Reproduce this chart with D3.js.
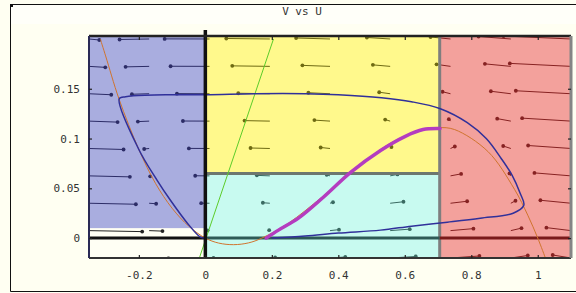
<!DOCTYPE html>
<html>
<head>
<meta charset="utf-8">
<script src="https://cdn.jsdelivr.net/npm/d3@7"></script>
<style>
  html, body { margin: 0; padding: 0; background: #fffff2; }
  svg { display: block; }
  text { font-family: "DejaVu Sans Mono", monospace; font-size: 11px; fill: #333; }
</style>
</head>
<body>
<div id="chart"></div>
<script>
const width = 576, height = 293;

// tick labels
const xTicks = [-0.2, 0, 0.2, 0.4, 0.6, 0.8, 1];
const xTickLabels = ['-0.2', '0', '0.2', '0.4', '0.6', '0.8', '1'];
const yTicks = [0, 0.05, 0.1, 0.15];
const yTickLabels = ['0', '0.05', '0.1', '0.15'];

// shaded regions of the phase plane
const regionName = ['low', 'blue', 'yellow', 'cyan', 'red'];
const regionU0 = [-0.35, -0.35, 0, 0, 0.705];
const regionU1 = [0, 0, 0.705, 0.705, 1.1];
const regionV0 = [-0.02, 0.01, 0.065, -0.02, -0.02];
const regionV1 = [0.01, 0.203, 0.203, 0.065, 0.203];

// direction field grid (tail points) and read-off head offsets
const gridU = [-0.35, -0.169, 0.0125, 0.194, 0.375, 0.556, 0.7375, 0.919, 1.1];
const gridV = [-0.02, 0.0075, 0.035, 0.0625, 0.09, 0.1175, 0.145, 0.1725, 0.2];
const fieldDU = [
  [0.178, 0.058, 0.012, 0.016, 0.046, 0.077, 0.087, 0.051, -0.055],
  [0.160, 0.040, -0.006, -0.002, 0.027, 0.059, 0.069, 0.032, -0.074],
  [0.141, 0.021, -0.025, -0.021, 0.009, 0.040, 0.050, 0.014, -0.092],
  [0.123, 0.003, -0.043, -0.039, -0.010, 0.022, 0.032, -0.004, -0.110],
  [0.104, -0.015, -0.062, -0.058, -0.028, 0.004, 0.013, -0.023, -0.129],
  [0.086, -0.034, -0.080, -0.076, -0.047, -0.015, -0.005, -0.041, -0.147],
  [0.067, -0.052, -0.098, -0.095, -0.065, -0.033, -0.024, -0.060, -0.166],
  [0.049, -0.071, -0.117, -0.113, -0.083, -0.052, -0.042, -0.078, -0.184],
  [0.031, -0.089, -0.135, -0.131, -0.102, -0.070, -0.060, -0.097, -0.203]
];
const fieldDV = [-0.001, -0.0005, 0.0001, 0.0005, 0.001, 0.0015, 0.002, 0.0025, 0.003];

// cubic nullcline
const nullU = [-0.316, -0.3, -0.26, -0.2, -0.15, -0.1, -0.05, 0, 0.04, 0.085, 0.13, 0.17, 0.25, 0.35, 0.45, 0.55, 0.65, 0.7, 0.75, 0.85, 0.93, 0.97, 1.0, 1.023];
const nullV = [0.2, 0.183, 0.14, 0.089, 0.055, 0.03, 0.012, 0, -0.005, -0.0066, -0.0048, 0, 0.015, 0.041, 0.069, 0.094, 0.109, 0.111, 0.109, 0.087, 0.049, 0.023, 0, -0.02];

// straight nullcline
const lineU = [-0.018, 0.205];
const lineV = [-0.02, 0.2];

// trajectory
const trajU = [0.2, 0.3, 0.4, 0.527, 0.62, 0.728, 0.827, 0.926, 0.958, 0.947, 0.923, 0.89, 0.845, 0.788, 0.707, 0.62, 0.53, 0.4, 0.3, 0.15, 0, -0.12, -0.217, -0.24, -0.259, -0.2, -0.145, -0.105, -0.054, -0.015, 0];
const trajV = [0, 0.002, 0.005, 0.008, 0.012, 0.016, 0.02, 0.025, 0.033, 0.045, 0.063, 0.08, 0.1, 0.116, 0.13, 0.137, 0.141, 0.144, 0.145, 0.145, 0.144, 0.144, 0.143, 0.142, 0.14, 0.089, 0.058, 0.038, 0.015, 0.001, 0];

// highlighted rise
const riseU = [0.183, 0.22, 0.28, 0.355, 0.437, 0.527, 0.6, 0.655, 0.706];
const riseV = [0, 0.008, 0.02, 0.041, 0.066, 0.088, 0.102, 0.109, 0.11];

const fills = { low: '#fffff4', blue: '#a9addf', yellow: '#fff98c', cyan: '#c8faf0', red: '#f3a19c' };
const arrowColors = { low: '#222222', blue: '#2c2c66', yellow: '#6e6a12', cyan: '#3a6a62', red: '#862222' };

const x = d3.scaleLinear().domain([-0.35, 1.1]).range([89, 571]);
const y = d3.scaleLinear().domain([-0.02, 0.203]).range([258, 36]);

const svg = d3.select('#chart').append('svg')
  .attr('width', width)
  .attr('height', height);

// outer border
svg.append('rect').attr('x', 0).attr('y', 0).attr('width', width).attr('height', height).attr('fill', '#fffff2');
svg.append('rect').attr('x', 10).attr('y', 4).attr('width', width - 10).attr('height', 20).attr('fill', '#ffffff').attr('opacity', 0.5);
svg.append('path').attr('d', `M576,4.5H10.5V291.5H576`).attr('fill', 'none').attr('stroke', '#111').attr('stroke-width', 1);
svg.append('rect').attr('x', 10).attr('y', 4).attr('width', 3).attr('height', 3).attr('fill', '#111');

svg.append('text')
  .attr('x', 302).attr('y', 15)
  .attr('text-anchor', 'middle')
  .text('V vs U');

const defs = svg.append('defs');
const regions = regionName.map((name, i) => ({
  name, u0: regionU0[i], u1: regionU1[i], v0: regionV0[i], v1: regionV1[i]
}));

regions.forEach(r => {
  defs.append('clipPath').attr('id', `clip-${r.name}`)
    .append('rect')
      .attr('x', x(r.u0)).attr('y', y(r.v1))
      .attr('width', x(r.u1) - x(r.u0))
      .attr('height', y(r.v0) - y(r.v1));
});

svg.append('g').selectAll('rect')
  .data(regions)
  .join('rect')
    .attr('x', d => x(d.u0))
    .attr('y', d => y(d.v1))
    .attr('width', d => x(d.u1) - x(d.u0))
    .attr('height', d => y(d.v0) - y(d.v1))
    .attr('fill', d => fills[d.name]);

// direction field, drawn once per region with that region's colour
const arrows = [];
gridV.forEach((v, i) => {
  gridU.forEach((u, j) => {
    arrows.push({ u, v, hu: u + fieldDU[i][j], hv: v + fieldDV[j] });
  });
});

regions.forEach(r => {
  const g = svg.append('g').attr('clip-path', `url(#clip-${r.name})`);
  g.selectAll('line')
    .data(arrows)
    .join('line')
      .attr('x1', d => x(d.u)).attr('y1', d => y(d.v))
      .attr('x2', d => x(d.hu)).attr('y2', d => y(d.hv))
      .attr('stroke', arrowColors[r.name])
      .attr('stroke-width', 1);
  g.selectAll('circle')
    .data(arrows)
    .join('circle')
      .attr('cx', d => x(d.hu)).attr('cy', d => y(d.hv))
      .attr('r', 1.9)
      .attr('fill', arrowColors[r.name]);
});

// region borders
svg.append('line')
  .attr('x1', x(0)).attr('x2', x(0.705))
  .attr('y1', y(0.065)).attr('y2', y(0.065))
  .attr('stroke', '#6d776f').attr('stroke-width', 3);
svg.append('line')
  .attr('x1', x(0.705)).attr('x2', x(0.705))
  .attr('y1', y(0.203)).attr('y2', y(-0.02))
  .attr('stroke', '#7e7e7e').attr('stroke-width', 3);

// v = 0 line, coloured per region
const zeroU = [-0.35, 0, 0.705, 1.1];
const zeroColors = ['#111111', '#2e5a56', '#7a1a1a'];
zeroColors.forEach((c, i) => {
  svg.append('line')
    .attr('x1', x(zeroU[i])).attr('x2', x(zeroU[i + 1]))
    .attr('y1', y(0)).attr('y2', y(0))
    .attr('stroke', c).attr('stroke-width', 3);
});

const line = d3.line()
  .x(d => x(d[0]))
  .y(d => y(d[1]))
  .curve(d3.curveCatmullRom.alpha(0.5));

defs.append('clipPath').attr('id', 'clip-plot')
  .append('rect')
    .attr('x', x(-0.35)).attr('y', y(0.203))
    .attr('width', x(1.1) - x(-0.35))
    .attr('height', y(-0.02) - y(0.203));

const curves = svg.append('g').attr('clip-path', 'url(#clip-plot)');

curves.append('path')
  .attr('d', line(d3.zip(nullU, nullV)))
  .attr('fill', 'none').attr('stroke', '#d0742e').attr('stroke-width', 1);

curves.append('path')
  .attr('d', line(d3.zip(lineU, lineV)))
  .attr('fill', 'none').attr('stroke', '#5ccc2a').attr('stroke-width', 1);

curves.append('path')
  .attr('d', line(d3.zip(trajU, trajV)))
  .attr('fill', 'none').attr('stroke', '#30309a').attr('stroke-width', 1.5);

curves.append('path')
  .attr('d', line(d3.zip(riseU, riseV)))
  .attr('fill', 'none').attr('stroke', '#b43cc0').attr('stroke-width', 3.5)
  .attr('stroke-linecap', 'round');

// u = 0 axis line
svg.append('line')
  .attr('x1', x(0)).attr('x2', x(0))
  .attr('y1', 30).attr('y2', y(-0.02))
  .attr('stroke', '#111').attr('stroke-width', 3.5);

// plot frame
svg.append('line').attr('x1', x(-0.35)).attr('x2', x(1.1)).attr('y1', 36).attr('y2', 36)
  .attr('stroke', '#222').attr('stroke-width', 2.5);
svg.append('line').attr('x1', x(-0.35)).attr('x2', x(1.1)).attr('y1', y(-0.02)).attr('y2', y(-0.02))
  .attr('stroke', '#333').attr('stroke-width', 2);
svg.append('line').attr('x1', x(-0.35)).attr('x2', x(-0.35)).attr('y1', 36).attr('y2', y(-0.02))
  .attr('stroke', '#2a2a55').attr('stroke-width', 2);
svg.append('line').attr('x1', x(1.1)).attr('x2', x(1.1)).attr('y1', 36).attr('y2', y(-0.02))
  .attr('stroke', '#858585').attr('stroke-width', 3);

// axes
const xAxis = svg.append('g')
  .attr('transform', `translate(0,${y(-0.02)})`)
  .call(d3.axisBottom(x).tickValues(xTicks)
    .tickFormat((d, i) => xTickLabels[i])
    .tickSizeInner(-3).tickSizeOuter(0).tickPadding(13));
xAxis.select('.domain').remove();

const xTop = svg.append('g')
  .attr('transform', 'translate(0,37)')
  .call(d3.axisTop(x).tickValues(xTicks).tickFormat('').tickSizeInner(-3).tickSizeOuter(0));
xTop.select('.domain').remove();

const yAxis = svg.append('g')
  .attr('transform', `translate(${x(-0.35)},0)`)
  .call(d3.axisLeft(y).tickValues(yTicks)
    .tickFormat((d, i) => yTickLabels[i])
    .tickSizeInner(-3).tickSizeOuter(0).tickPadding(9));
yAxis.select('.domain').remove();

const yRight = svg.append('g')
  .attr('transform', `translate(${x(1.1)},0)`)
  .call(d3.axisRight(y).tickValues(yTicks).tickFormat('').tickSizeInner(-3).tickSizeOuter(0));
yRight.select('.domain').remove();

svg.selectAll('.tick line').attr('stroke', '#222').attr('stroke-width', 1.2);
svg.selectAll('.tick text')
  .attr('font-family', '"DejaVu Sans Mono", monospace')
  .attr('font-size', 11)
  .attr('fill', '#333');
</script>
</body>
</html>
